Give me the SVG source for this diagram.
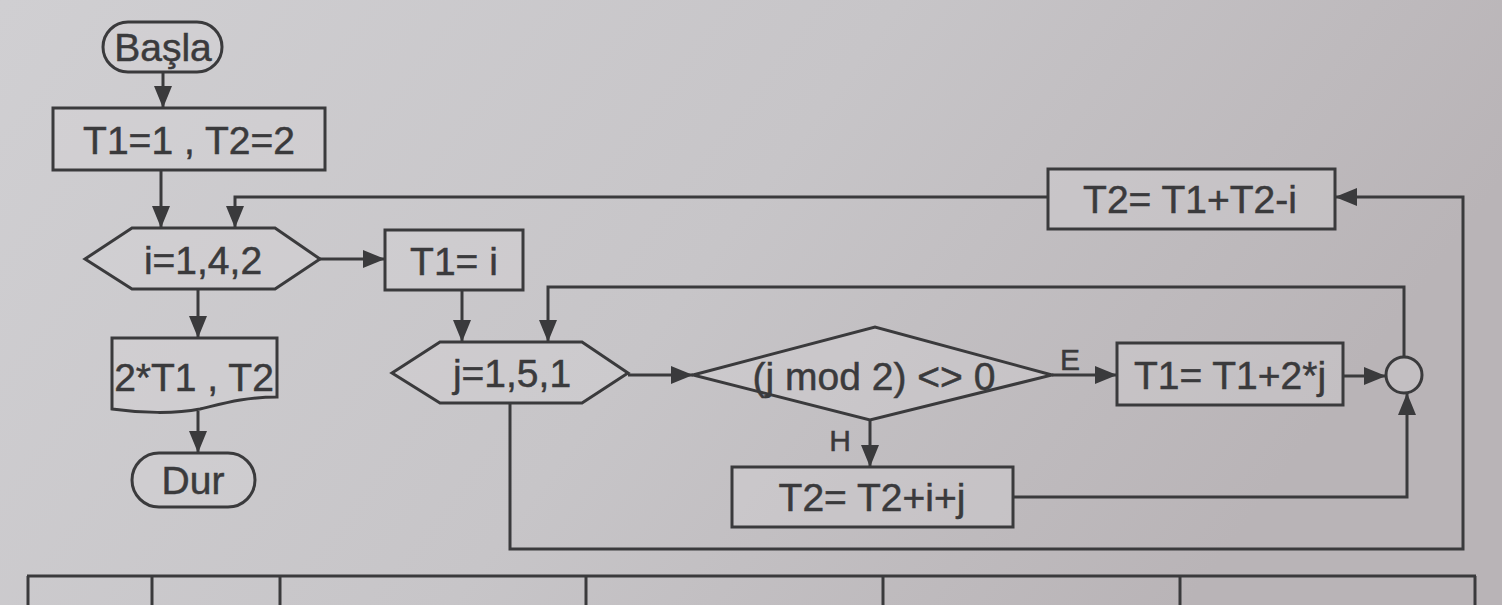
<svg xmlns="http://www.w3.org/2000/svg" width="1502" height="605" viewBox="0 0 1502 605">
<defs>
<linearGradient id="bg" x1="0" y1="0" x2="1" y2="0.3">
<stop offset="0" stop-color="#d0cfd2"/>
<stop offset="0.55" stop-color="#c7c5c8"/>
<stop offset="1" stop-color="#b9b4b7"/>
</linearGradient>
<marker id="ah" markerUnits="userSpaceOnUse" markerWidth="24" markerHeight="20" refX="22" refY="9" orient="auto">
<path d="M0,0 L22,9 L0,18 z" fill="#3a3a3c"/>
</marker>
<style>
.s{fill:none;stroke:#3a3a3c;stroke-width:3}
.b{fill:#d6d4d8;fill-opacity:0.35;stroke:#3a3a3c;stroke-width:3}
.c{fill:none;stroke:#3a3a3c;stroke-width:3;marker-end:url(#ah)}
text{font-family:"Liberation Sans",Arial,sans-serif;font-size:39px;fill:#3a3a3c;stroke:#3a3a3c;stroke-width:0.5;text-anchor:middle;dominant-baseline:central}
.lb{font-size:30px}
</style>
</defs>
<rect x="0" y="0" width="1502" height="605" fill="url(#bg)"/>

<g id="connectors">
<line class="c" x1="163" y1="72" x2="163" y2="108"/>
<line class="c" x1="161" y1="170" x2="161" y2="228"/>
<path class="c" d="M1048,197 H235 V228"/>
<line class="c" x1="320" y1="259" x2="385" y2="259"/>
<line class="c" x1="198" y1="289" x2="198" y2="338"/>
<line class="c" x1="198" y1="411" x2="198" y2="453"/>
<line class="c" x1="462" y1="290" x2="462" y2="342"/>
<path class="c" d="M1404,357 V287 H548 V342"/>
<line class="c" x1="628" y1="375" x2="693" y2="375"/>
<line class="c" x1="1052" y1="375" x2="1117" y2="375"/>
<line class="c" x1="1343" y1="376" x2="1386" y2="376"/>
<line class="c" x1="870" y1="420" x2="870" y2="467"/>
<path class="c" d="M1013,497 H1407 V393"/>
<path class="c" d="M510,402 V549 H1463 V197 H1335"/>
<text class="lb" x="1070" y="359">E</text>
<text class="lb" x="840" y="440">H</text>
</g>

<g id="start">
<rect class="b" x="103" y="22" width="119" height="50" rx="25"/>
<text x="163" y="47" font-size="35">Başla</text>
</g>
<g id="init">
<rect class="b" x="53" y="108" width="272" height="62"/>
<text x="189" y="140">T1=1 , T2=2</text>
</g>
<g id="loopI">
<polygon class="b" points="85,259 132,228 275,228 320,259 275,289 132,289"/>
<text x="203" y="260">i=1,4,2</text>
</g>
<g id="t1i">
<rect class="b" x="385" y="230" width="138" height="60"/>
<text x="454" y="261">T1= i</text>
</g>
<g id="output">
<path class="b" d="M112,338 H277 V397 C245,397 225,403 200,409 C175,414 140,413 112,409 Z"/>
<text x="194" y="377" font-size="37">2*T1 , T2</text>
</g>
<g id="end">
<rect class="b" x="132" y="453" width="123" height="54" rx="27"/>
<text x="193" y="480">Dur</text>
</g>
<g id="loopJ">
<polygon class="b" points="392,373 440,342 582,342 628,373 582,403 440,403"/>
<text x="512" y="373">j=1,5,1</text>
</g>
<g id="decision">
<polygon class="b" points="693,375 875,327 1052,375 870,420"/>
<text x="874" y="376" font-size="37">(j mod 2) &lt;&gt; 0</text>
</g>
<g id="t1update">
<rect class="b" x="1117" y="343" width="226" height="62"/>
<text x="1230" y="375">T1= T1+2*j</text>
</g>
<g id="join">
<circle class="b" cx="1404" cy="375" r="18"/>
</g>
<g id="t2update">
<rect class="b" x="732" y="467" width="281" height="60"/>
<text x="872" y="497">T2= T2+i+j</text>
</g>
<g id="t2final">
<rect class="b" x="1048" y="169" width="287" height="60"/>
<text x="1190" y="199">T2= T1+T2-i</text>
</g>

<g id="table" class="s">
<line x1="27" y1="576" x2="1476" y2="576"/>
<line x1="28" y1="576" x2="28" y2="605"/>
<line x1="152" y1="576" x2="152" y2="605"/>
<line x1="280" y1="576" x2="280" y2="605"/>
<line x1="586" y1="576" x2="586" y2="605"/>
<line x1="883" y1="576" x2="883" y2="605"/>
<line x1="1180" y1="576" x2="1180" y2="605"/>
<line x1="1475" y1="576" x2="1475" y2="605"/>
</g>
</svg>
